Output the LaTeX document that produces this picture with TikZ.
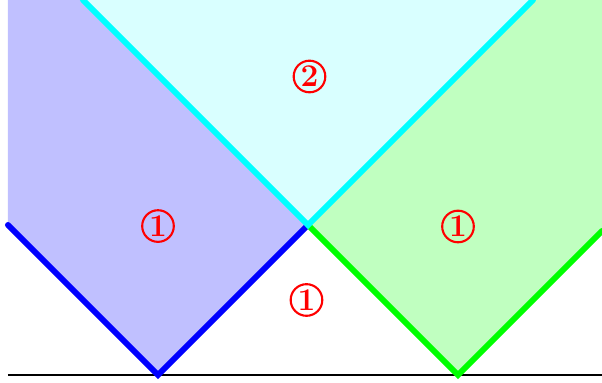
\documentclass[tikz,border=0pt]{standalone}
\usepackage{amsmath,amssymb}
\usepackage{tikz}
\usepackage{xcolor}

\definecolor{purecyan}{RGB}{0,255,255}
\definecolor{lightcyan}{RGB}{217,255,255}
\definecolor{lightblue}{RGB}{192,192,255}
\definecolor{lightgreen}{RGB}{192,255,192}
\definecolor{puregreen}{RGB}{0,255,0}
\definecolor{pureblue}{RGB}{0,0,255}
\definecolor{purered}{RGB}{255,0,0}

\tikzset{
  wave/.style={line width=0.12cm,line cap=round},
  regionlabel/.style={circle,draw=purered,line width=1.2pt,text=purered,font=\fontsize{18}{21}\selectfont\bfseries,inner sep=0pt,minimum size=18pt}
}

\begin{document}
\begin{tikzpicture}[x=3cm,y=3cm]
\useasboundingbox (-1.0533,-0.0533) rectangle (2.96,2.5);
\coordinate (bl) at (-1,1);
\coordinate (bt) at (0,0);
\coordinate (mid) at (1,1);
\coordinate (gt) at (2,0);
\coordinate (gr) at (2.96,0.96);
\coordinate (cl) at (-0.5,2.5);
\coordinate (cr) at (2.5,2.5);
\fill[lightblue] (bl) -- (bt) -- (mid) -- (cl) -- (-1,2.5) -- cycle;
\fill[lightcyan] (cl) -- (mid) -- (cr) -- cycle;
\fill[lightgreen] (mid) -- (gt) -- (gr) -- (2.96,2.5) -- (cr) -- cycle;
\draw[line width=0.04cm] (-1,0) -- (2.96,0);
\draw[wave,pureblue] (bl) -- (bt) -- (mid);
\draw[wave,puregreen] (mid) -- (gt) -- (gr);
\draw[wave,purecyan] (cl) -- (mid) -- (cr);
\node[regionlabel] (two) at (1.01,1.99) {2};
\node[regionlabel] (oneleft) at (0,0.993) {1};
\node[regionlabel] (oneright) at (2,0.99) {1};
\node[regionlabel] (onelow) at (0.99,0.5) {1};
\end{tikzpicture}
\end{document}
